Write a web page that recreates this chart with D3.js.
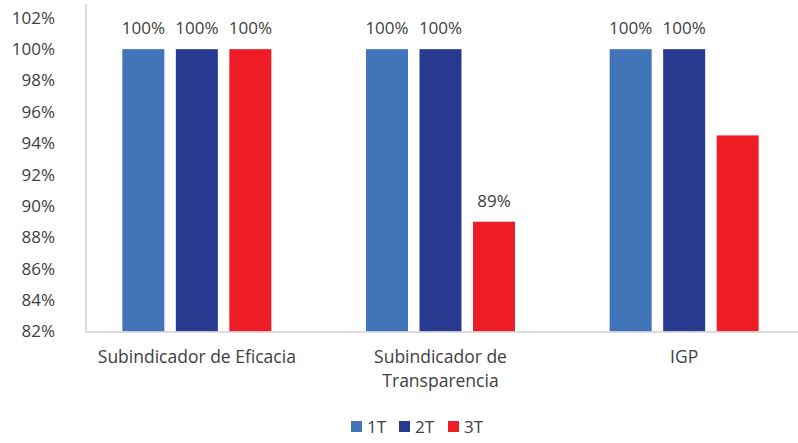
<!DOCTYPE html>
<html>
<head>
<meta charset="utf-8">
<script src="https://cdn.jsdelivr.net/npm/d3@7"></script>
<style>
  body { margin: 0; background: #fff; }
  text { font-family: "Open Sans", Lato, sans-serif; fill: #404040; }
</style>
</head>
<body>
<div id="chart"></div>
<script>
var width = 798, height = 443;

var categories = [["Subindicador de Eficacia"], ["Subindicador de", "Transparencia"], ["IGP"]];
var series = ["1T", "2T", "3T"];
var colors = ["#4274BA", "#283990", "#EE1C25"];
var values = [
    [100, 100, 100],
    [100, 100, 89],
    [100, 100, 94.5]
];
var labels = [
    ["100%", "100%", "100%"],
    ["100%", "100%", "89%"],
    ["100%", "100%", ""]
];
var yTicks = [82, 84, 86, 88, 90, 92, 94, 96, 98, 100, 102];

var svg = d3.select("#chart").append("svg").attr("width", width).attr("height", height);

var y = d3.scaleLinear().domain([82, 102]).range([331.5, 17.8]);

var x0 = d3.scaleBand()
    .domain(d3.range(categories.length))
    .range([75, 806]);

var x1 = d3.scaleBand()
    .domain(series)
    .range([-74.5, 74.5])
    .paddingInner(0.215);

// y tick labels
svg.append("g")
    .selectAll("text")
    .data(yTicks)
    .enter().append("text")
    .attr("x", 55)
    .attr("y", function (d) { return y(d); })
    .attr("dy", "0.35em")
    .attr("text-anchor", "end")
    .style("font-size", "17px")
    .text(function (d) { return d + "%"; });

// bars
var groups = svg.append("g")
    .selectAll("g")
    .data(values)
    .enter().append("g")
    .attr("transform", function (d, i) { return "translate(" + (x0(i) + x0.bandwidth() / 2) + ",0)"; });

groups.selectAll("rect")
    .data(function (d) { return d; })
    .enter().append("rect")
    .attr("x", function (d, j) { return x1(series[j]); })
    .attr("width", x1.bandwidth())
    .attr("y", function (d) { return y(d); })
    .attr("height", function (d) { return y(82) - y(d); })
    .attr("fill", function (d, j) { return colors[j]; });

groups.selectAll("text.lbl")
    .data(function (d, i) { return d.map(function (v, j) { return { v: v, t: labels[i][j], j: j }; }); })
    .enter().append("text")
    .attr("class", "lbl")
    .attr("x", function (d) { return x1(series[d.j]) + x1.bandwidth() / 2; })
    .attr("y", function (d) { return y(d.v) - 15; })
    .attr("text-anchor", "middle")
    .style("font-size", "17px")
    .text(function (d) { return d.t; });

// axes lines
svg.append("line")
    .attr("x1", 86).attr("x2", 86)
    .attr("y1", 4).attr("y2", 332)
    .attr("stroke", "#d0d0d0").attr("stroke-width", 1.5);
svg.append("line")
    .attr("x1", 86).attr("x2", width)
    .attr("y1", 332).attr("y2", 332)
    .attr("stroke", "#d0d0d0").attr("stroke-width", 1.5);

// category labels
svg.append("g")
    .selectAll("text")
    .data(categories)
    .enter().append("text")
    .attr("x", function (d, i) { return x0(i) + x0.bandwidth() / 2; })
    .attr("y", 363)
    .attr("text-anchor", "middle")
    .style("font-size", "17.5px")
    .each(function (d) {
        var t = d3.select(this);
        d.forEach(function (line, k) {
            t.append("tspan")
                .attr("x", t.attr("x"))
                .attr("dy", k === 0 ? 0 : 24)
                .text(line);
        });
    });

// legend
var legendX = [351, 399, 448];
var legend = svg.append("g")
    .selectAll("g")
    .data(series)
    .enter().append("g")
    .attr("transform", function (d, i) { return "translate(" + legendX[i] + ",421)"; });

legend.append("rect")
    .attr("width", 11).attr("height", 11)
    .attr("fill", function (d, i) { return colors[i]; });

legend.append("text")
    .attr("x", 16)
    .attr("y", 6)
    .attr("dy", "0.35em")
    .style("font-size", "17px")
    .text(function (d) { return d; });
</script>
</body>
</html>
